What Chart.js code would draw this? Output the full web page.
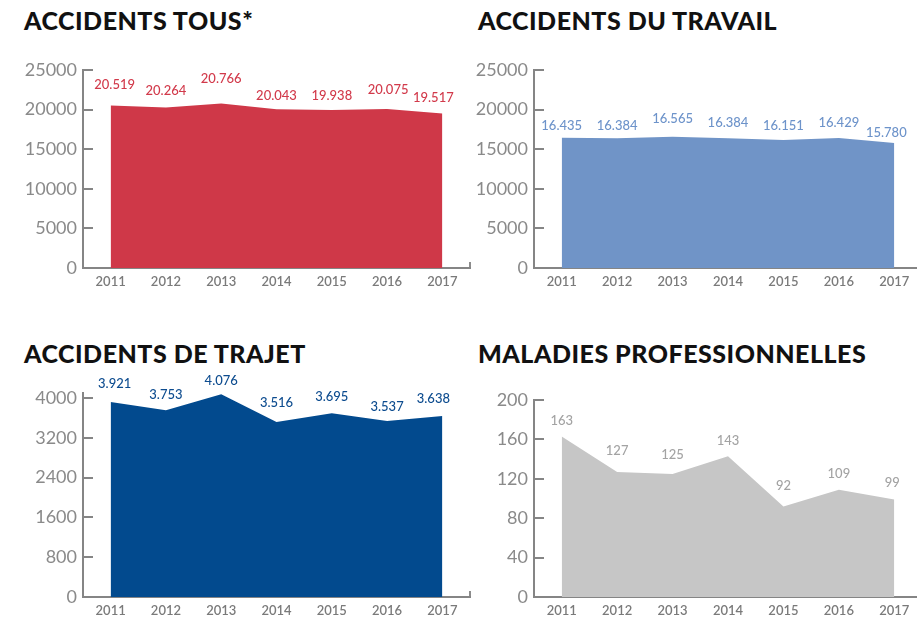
<!DOCTYPE html>
<html lang="fr">
<head>
<meta charset="utf-8">
<script src="https://cdn.jsdelivr.net/npm/chart.js@4.4.1/dist/chart.umd.min.js"></script>
<style>
  html, body { margin:0; padding:0; background:#fff; overflow:hidden; }
  body { width:917px; height:618px; position:relative; }
  .titre { position:absolute; font:900 25px Lato, sans-serif; line-height:1; color:#111; white-space:nowrap; letter-spacing:0.5px; }
  canvas { position:absolute; }
</style>
</head>
<body>
<div class="titre" style="left:24px;top:8px">ACCIDENTS TOUS*</div>
<div class="titre" style="left:478px;top:8px">ACCIDENTS DU TRAVAIL</div>
<div class="titre" style="left:24px;top:341px">ACCIDENTS DE TRAJET</div>
<div class="titre" style="left:478px;top:341px">MALADIES PROFESSIONNELLES</div>

<canvas id="chartTous" width="480" height="262" style="left:0;top:40px"></canvas>
<canvas id="chartTravail" width="462" height="262" style="left:460px;top:40px"></canvas>
<canvas id="chartTrajet" width="480" height="248" style="left:0;top:370px"></canvas>
<canvas id="chartMaladies" width="462" height="248" style="left:460px;top:370px"></canvas>

<script>
const annees = ['2011', '2012', '2013', '2014', '2015', '2016', '2017'];

const accidentsTous = [20519, 20264, 20766, 20043, 19938, 20075, 19517];
const accidentsTravail = [16435, 16384, 16565, 16384, 16151, 16429, 15780];
const accidentsTrajet = [3921, 3753, 4076, 3516, 3695, 3537, 3638];
const maladiesPro = [163, 127, 125, 143, 92, 109, 99];

const ticksAccidents = [0, 5000, 10000, 15000, 20000, 25000];
const ticksTrajet = [0, 800, 1600, 2400, 3200, 4000];
const ticksMaladies = [0, 40, 80, 120, 160, 200];

// décalage des étiquettes au-dessus des points (px)
const decalTous = {dy: [21, 17, 25, 13, 14, 19, 16], dx: [4, 0, 0, 0, 0, 1, -9]};
const decalTravail = {dy: [12, 12, 18, 15, 14, 15, 10], dx: [0, 0, 0, 0, 0, 0, -8]};
const decalTrajet = {dy: [18, 15, 13, 19, 16, 14, 17], dx: [4, 0, 0, 0, 0, 0, -9]};
const decalMaladies = {dy: [16, 21, 19, 15, 21, 16, 17], dx: [0, 0, 0, 0, 0, 0, -2]};

function formatFr(n){
    return String(n).replace(/\B(?=(\d{3})+(?!\d))/g, '.');
}

const etiquettes = {
    id: 'etiquettes',
    afterDatasetsDraw(chart, args, opts){
        const ctx = chart.ctx;
        const meta = chart.getDatasetMeta(0);
        const values = chart.data.datasets[0].data;
        ctx.save();
        ctx.font = '500 13px Lato, sans-serif';
        ctx.fillStyle = opts.color;
        ctx.textAlign = 'center';
        ctx.textBaseline = 'middle';
        meta.data.forEach((pt, i) => {
            ctx.fillText(formatFr(values[i]), pt.x + opts.dx[i], pt.y - opts.dy[i]);
        });
        ctx.restore();
    }
};

function makeChart(id, values, cfg){
    return new Chart(document.getElementById(id), {
        type: 'line',
        data: {
            labels: annees,
            datasets: [{
                data: values,
                fill: 'origin',
                backgroundColor: cfg.fill,
                borderWidth: 0,
                pointRadius: 0,
                tension: 0
            }]
        },
        plugins: [etiquettes],
        options: {
            responsive: false,
            devicePixelRatio: 1,
            animation: false,
            layout: {padding: {top: cfg.padTop, right: cfg.padRight, left: 0, bottom: 0}},
            plugins: {
                legend: {display: false},
                tooltip: {enabled: false},
                etiquettes: {color: cfg.labelColor, dx: cfg.decal.dx, dy: cfg.decal.dy}
            },
            scales: {
                x: {
                    offset: true,
                    z: 1,
                    grid: {offset: true, drawOnChartArea: false, drawTicks: true, tickLength: -6, color: 'rgba(0,0,0,0.45)', lineWidth: 2},
                    border: {display: true, color: '#858585', width: 2},
                    ticks: {padding: 12, color: '#7a7a7a', font: {family: 'Lato', size: 13, weight: '600'}, maxRotation: 0},
                    afterFit(s){ s.height = cfg.xHeight; s.paddingLeft = 0; s.paddingRight = 0; }
                },
                y: {
                    min: 0,
                    max: cfg.max,
                    afterBuildTicks(s){ s.ticks = cfg.ticks.map(v => ({value: v})); },
                    grid: {drawOnChartArea: false, drawTicks: true, tickLength: -10, color: '#858585', lineWidth: 2},
                    border: {display: true, color: '#858585', width: 2},
                    ticks: {padding: 16, color: '#8a8a8a', font: {family: 'Lato', size: 18}, callback: v => String(v)},
                    afterFit(s){ s.width = cfg.yWidth; s.paddingTop = 0; s.paddingBottom = 0; }
                }
            }
        }
    });
}

makeChart('chartTous', accidentsTous, {
    fill: '#cf3848', labelColor: '#d23a4b', decal: decalTous,
    max: 25000, ticks: ticksAccidents, padTop: 30, padRight: 10, xHeight: 34, yWidth: 83
});
makeChart('chartTravail', accidentsTravail, {
    fill: '#7094c7', labelColor: '#6d93ca', decal: decalTravail,
    max: 25000, ticks: ticksAccidents, padTop: 30, padRight: 0, xHeight: 34, yWidth: 74
});
makeChart('chartTrajet', accidentsTrajet, {
    fill: '#024a8e', labelColor: '#0d4c8f', decal: decalTrajet,
    max: 4100, ticks: ticksTrajet, padTop: 23, padRight: 10, xHeight: 21, yWidth: 83
});
makeChart('chartMaladies', maladiesPro, {
    fill: '#c6c6c6', labelColor: '#a3a3a3', decal: decalMaladies,
    max: 200, ticks: ticksMaladies, padTop: 30, padRight: 0, xHeight: 21, yWidth: 74
});
</script>
</body>
</html>
